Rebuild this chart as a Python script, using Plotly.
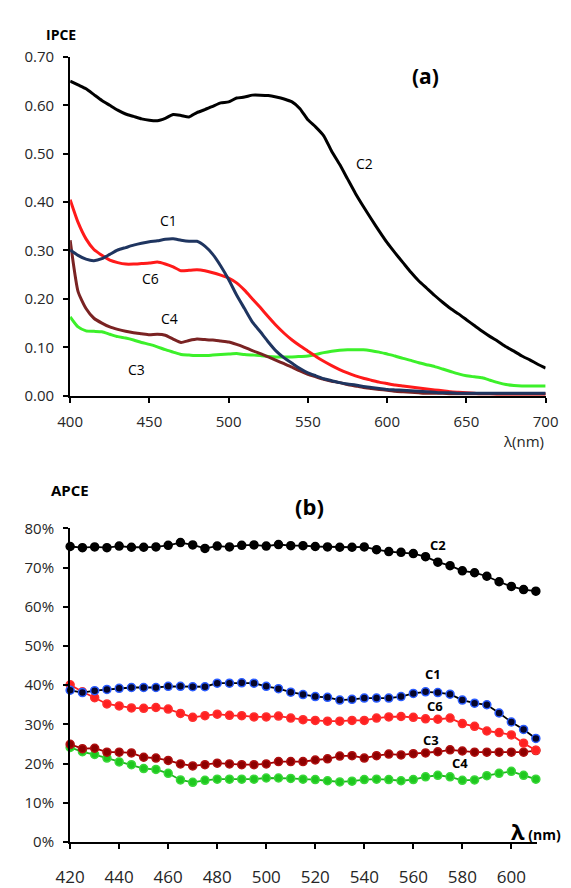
import plotly.graph_objects as go

# ---------- Panel (a): IPCE ----------
wl_a = list(range(400, 705, 5))

ipce_c2 = [.650, .642, .634, .622, .610, .600, .590, .582, .577, .572, .569, .568, .573, .581, .579, .576,
           .585, .591, .598, .605, .607, .615, .617, .621, .621, .620, .617, .613, .607, .593, .570, .555,
           .537, .505, .478, .448, .418, .391, .365, .340, .316, .295, .275, .255, .237, .222, .207, .193,
           .180, .169, .157, .145, .133, .122, .112, .101, .092, .082, .074, .065, .057]
ipce_c1 = [.301, .290, .282, .279, .283, .292, .301, .306, .311, .315, .318, .320, .323, .324, .321, .319,
           .319, .309, .292, .268, .240, .208, .180, .152, .132, .111, .092, .078, .067, .056, .047, .041,
           .035, .031, .027, .024, .022, .019, .017, .015, .013, .012, .011, .010, .009, .008, .007, .006,
           .006, .005, .005, .005, .005, .005, .005, .005, .005, .005, .005, .005, .005]
ipce_c6 = [.405, .358, .324, .302, .290, .280, .275, .272, .272, .273, .274, .276, .272, .266, .258, .259,
           .260, .258, .254, .249, .243, .233, .218, .200, .182, .163, .145, .129, .115, .103, .092, .081,
           .071, .062, .054, .047, .041, .036, .032, .028, .025, .022, .020, .018, .016, .014, .012, .010,
           .008, .007, .006, .005, .004, .004, .003, .003, .003, .003, .003, .003, .003]
ipce_c4 = [.321, .215, .180, .160, .150, .142, .137, .133, .130, .128, .126, .127, .125, .117, .110, .114,
           .117, .116, .115, .113, .111, .106, .100, .093, .087, .080, .073, .066, .059, .051, .044, .039,
           .034, .030, .027, .023, .020, .017, .015, .013, .011, .009, .008, .007, .006, .005, .005, .005,
           .004, .004, .004, .004, .004, .004, .004, .004, .004, .004, .004, .004, .004]
ipce_c3 = [.163, .142, .134, .133, .132, .127, .122, .119, .115, .110, .106, .101, .095, .090, .085, .084,
           .083, .083, .084, .085, .086, .087, .085, .084, .083, .081, .080, .080, .080, .081, .082, .085,
           .089, .092, .094, .095, .095, .095, .093, .090, .086, .082, .077, .073, .068, .064, .060, .055,
           .050, .045, .041, .039, .037, .032, .027, .023, .021, .020, .020, .020, .020]

# ---------- Panel (b): APCE ----------
wl_b = list(range(420, 615, 5))

apce_c2 = [75.4, 75.1, 75.3, 75.1, 75.5, 75.2, 75.2, 75.3, 75.7, 76.4, 75.8, 74.9, 75.5, 75.3, 75.7, 75.8,
           75.5, 75.9, 75.6, 75.6, 75.4, 75.3, 75.2, 75.2, 75.3, 74.6, 74.1, 73.9, 73.6, 72.8, 71.4, 70.5,
           69.2, 68.7, 67.8, 66.4, 65.2, 64.4, 64.0]
apce_c1 = [38.7, 38.1, 38.6, 38.9, 39.2, 39.4, 39.4, 39.4, 39.7, 39.7, 39.6, 39.6, 40.5, 40.5, 40.6, 40.5,
           39.7, 39.1, 38.2, 37.6, 37.1, 36.9, 36.2, 36.4, 36.7, 36.7, 36.7, 37.1, 37.9, 38.3, 38.1, 37.7,
           36.2, 35.4, 35.0, 32.9, 30.6, 28.7, 26.4]
apce_c6 = [40.1, 38.3, 36.8, 35.2, 34.7, 34.2, 34.1, 34.3, 33.9, 32.8, 31.8, 32.2, 32.6, 32.3, 32.2, 31.9,
           31.9, 32.1, 31.6, 31.2, 31.0, 30.8, 30.8, 31.0, 31.0, 31.6, 31.9, 32.0, 31.8, 31.4, 31.3, 31.6,
           30.2, 29.5, 28.3, 27.9, 27.3, 25.2, 23.4]
apce_c3 = [24.9, 23.8, 23.9, 22.9, 22.9, 22.7, 21.6, 21.4, 20.8, 19.9, 19.4, 19.7, 20.1, 19.9, 19.7, 19.7,
           19.9, 20.5, 20.5, 20.5, 20.9, 21.2, 21.9, 22.0, 21.4, 22.0, 22.4, 22.2, 22.5, 22.7, 23.0, 23.5,
           23.2, 22.9, 22.9, 22.9, 22.9, 22.9, 23.3]
apce_c4 = [24.1, 23.0, 22.3, 21.4, 20.4, 19.7, 18.7, 18.5, 17.5, 15.8, 15.2, 15.7, 16.0, 16.0, 16.0, 16.0,
           16.3, 16.3, 16.2, 16.0, 15.9, 15.6, 15.3, 15.5, 15.9, 16.0, 15.9, 15.6, 15.9, 16.6, 17.0, 16.6,
           15.7, 15.8, 16.9, 17.5, 18.0, 17.0, 16.0]

W, H = 571, 888
FONT = "Open Sans"
TICKCOL = "#262626"

fig = go.Figure()

# panel (a) traces
a_series = [
    (ipce_c2, "C2", "#000000"),
    (ipce_c3, "C3", "#3cf02a"),
    (ipce_c6, "C6", "#ff1a1a"),
    (ipce_c4, "C4", "#7a2323"),
    (ipce_c1, "C1", "#1f3560"),
]
for vals, name, col in a_series:
    fig.add_trace(go.Scatter(x=wl_a, y=vals, mode="lines", name=name,
                             line=dict(color=col, width=3, shape="spline", smoothing=0.5),
                             xaxis="x", yaxis="y", showlegend=False))

# panel (b) traces
b_series = [
    (apce_c2, "C2", "#000000", "#000000", "#000000"),
    (apce_c4, "C4", "#1fb51f", "#1fc81f", "#3ad83a"),
    (apce_c3, "C3", "#a00000", "#8e0000", "#b01010"),
    (apce_c6, "C6", "#ff2020", "#ff2020", "#ff3030"),
    (apce_c1, "C1", "#000000", "#06062a", "#2a5cff"),
]
for vals, name, lcol, mfill, mline in b_series:
    fig.add_trace(go.Scatter(x=wl_b, y=[v / 100 for v in vals], mode="lines+markers", name=name,
                             line=dict(color=lcol, width=1.8),
                             marker=dict(size=8, color=mfill, line=dict(color=mline, width=1.5)),
                             cliponaxis=False,
                             xaxis="x2", yaxis="y2", showlegend=False))

def px(x):
    return x / W

def py(y):
    return 1 - y / H

axis_common = dict(showgrid=False, zeroline=False, showline=True, linecolor="black", linewidth=2.2,
                   ticks="outside", ticklen=5, tickwidth=2, tickcolor="black")

fig.update_layout(
    width=W, height=H,
    margin=dict(l=0, r=0, t=0, b=0),
    paper_bgcolor="white", plot_bgcolor="white",
    font=dict(family=FONT, color="black"),
    xaxis=dict(domain=[px(58), px(558)], range=[400, 700], anchor="y",
               tickvals=[400, 450, 500, 550, 600, 650, 700],
               tickfont=dict(size=15, color=TICKCOL), ticklabelstandoff=6, **axis_common),
    yaxis=dict(domain=[py(394), py(47)], range=[0, 0.70], anchor="x",
               tickvals=[0, .1, .2, .3, .4, .5, .6, .7], tickformat=".2f",
               tickfont=dict(size=15, color=TICKCOL), ticklabelstandoff=6, **axis_common),
    xaxis2=dict(domain=[px(58), px(549)], range=[420, 610.5], anchor="y2",
                tickvals=list(range(420, 610, 20)),
                tickfont=dict(size=17, color=TICKCOL), ticklabelstandoff=14, **axis_common),
    yaxis2=dict(domain=[py(851), py(530)], range=[0, 0.80], anchor="x2",
                tickvals=[0, .1, .2, .3, .4, .5, .6, .7, .8], tickformat=".0%",
                tickfont=dict(size=15, color=TICKCOL), ticklabelstandoff=6, **axis_common),
)

def ann(text, x, y, size=14, bold=False, xanchor="center", color="black"):
    t = f"<b>{text}</b>" if bold else text
    fig.add_annotation(text=t, x=px(x), y=py(y), xref="paper", yref="paper", showarrow=False,
                       xanchor=xanchor, yanchor="middle", font=dict(size=size, color=color, family=FONT))

# panel (a) labels
ann("IPCE", 48, 24, size=14, bold=True)
ann("(a)", 432, 67, size=21, bold=True)
ann("λ(nm)", 558, 440, size=15, xanchor="right", color=TICKCOL)
ann("C2", 368, 156, size=14)
ann("C1", 161, 215, size=14)
ann("C6", 142, 274, size=14)
ann("C4", 162, 315, size=14)
ann("C3", 128, 367, size=14)

# panel (b) labels
ann("APCE", 58, 491, size=15, bold=True)
ann("(b)", 310, 507, size=22, bold=True)
ann("C2", 445, 547, size=13, bold=True)
ann("C1", 440, 679, size=13, bold=True)
ann("C6", 442, 712, size=13, bold=True)
ann("C3", 437, 747, size=13, bold=True)
ann("C4", 468, 770, size=13, bold=True)
fig.add_annotation(text="<b><span style='font-size:22px'>λ</span> (nm)</b>", x=px(519), y=py(840),
                   xref="paper", yref="paper", showarrow=False, xanchor="left", yanchor="middle",
                   font=dict(size=14, color="black", family=FONT))

fig.write_html("out.html")
